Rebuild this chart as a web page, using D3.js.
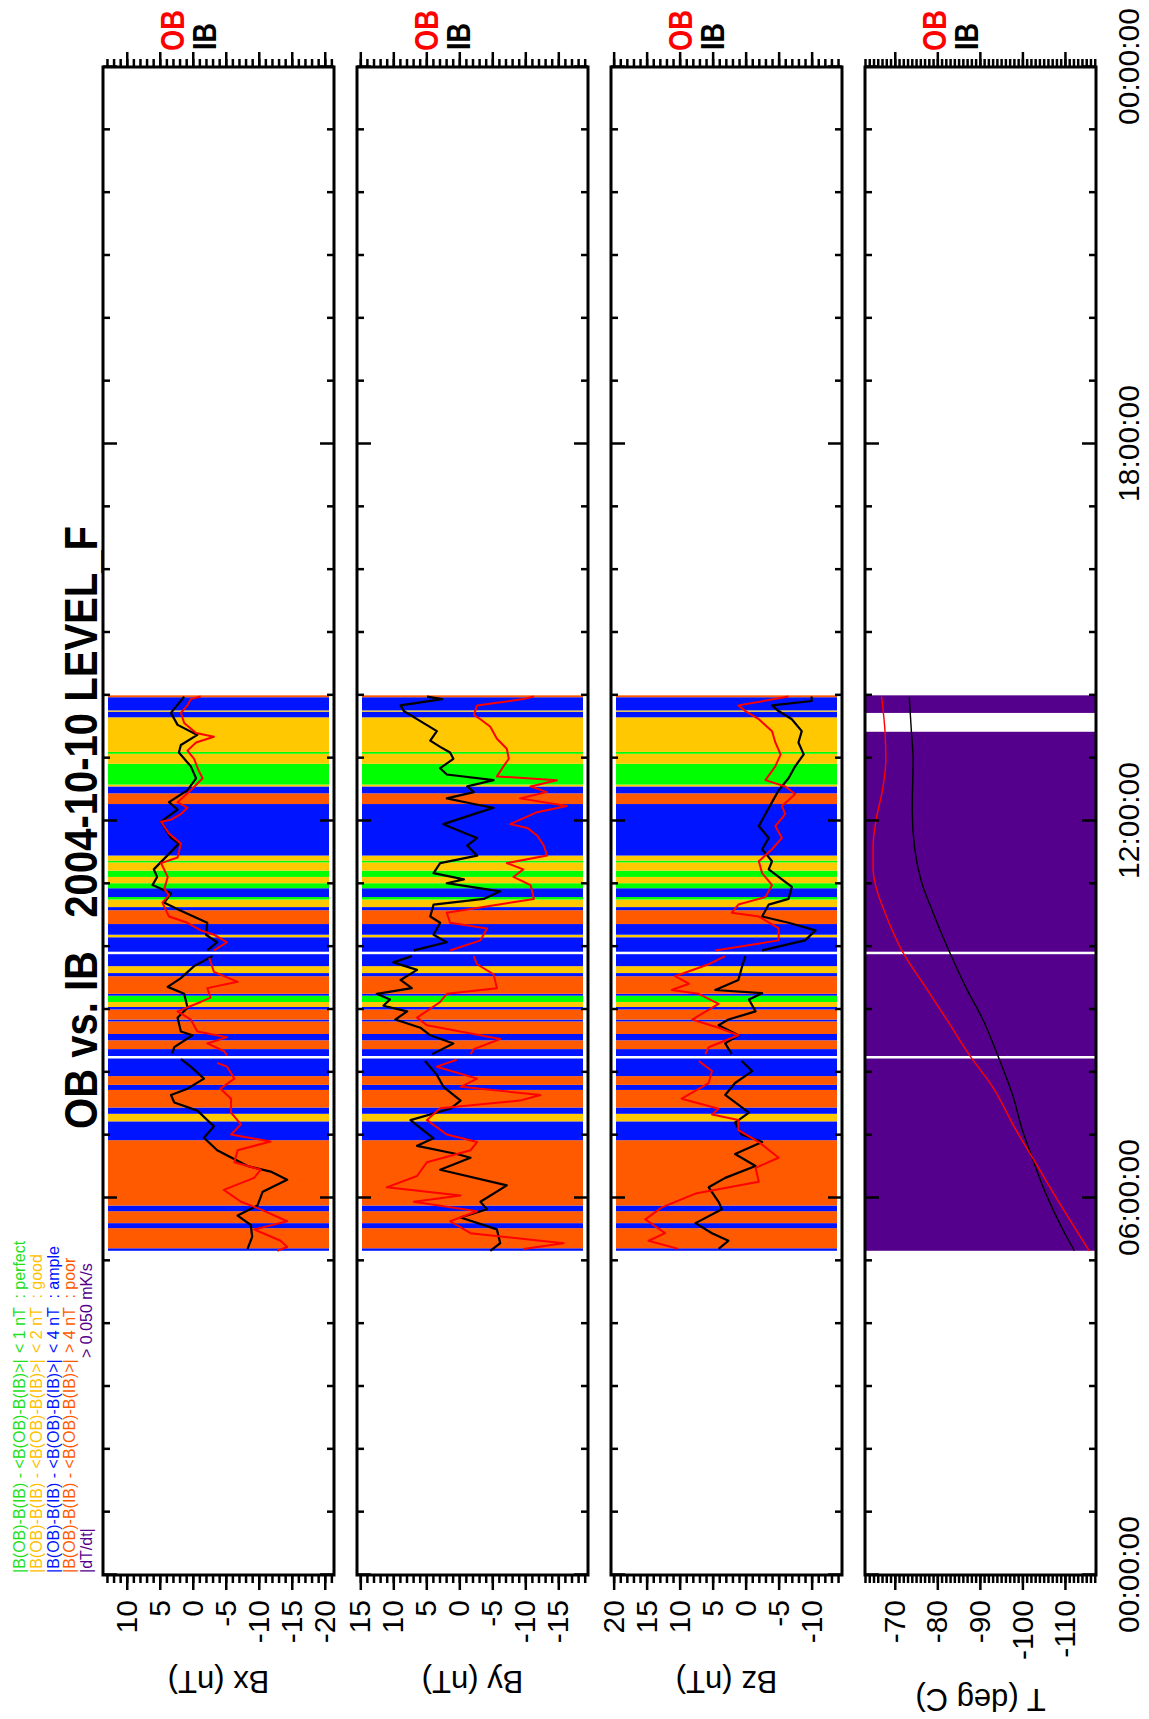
<!DOCTYPE html>
<html><head><meta charset="utf-8">
<script src="https://cdn.jsdelivr.net/npm/d3@7"></script>
<style>
body{margin:0;background:#fff}
svg{display:block}
text{font-family:"Liberation Sans",Arial,Helvetica,sans-serif}
</style>
</head><body>
<svg id="c" width="1149" height="1719"></svg>
<script>
// ---------------- data ----------------
const timeTickHours = [0, 6, 12, 18, 24];
const timeTickLabels = ["00:00:00", "06:00:00", "12:00:00", "18:00:00", "00:00:00"];
const panelNames = ["Bx (nT)", "By (nT)", "Bz (nT)", "T (deg C)"];
const panelDomains = [[-21.4, 13.6], [-19.5, 15.5], [-14.6, 20.4], [-117.3, -63]];
const panelMajorTicks = [
  [10, 5, 0, -5, -10, -15, -20],
  [15, 10, 5, 0, -5, -10, -15],
  [20, 15, 10, 5, 0, -5, -10],
  [-70, -80, -90, -100, -110]
];
const panelMinorStep = [1, 1, 1, 1];

// quality bands (hours of day)
const bandStart = [5.16,5.20,5.52,5.60,5.79,5.88,6.92,7.22,7.34,7.44,7.72,7.80,7.94,
  8.26,8.37,8.51,8.61,8.81,8.84,9.00,9.04,9.12,9.22,9.25,9.53,9.58,9.69,
  9.92,10.15,10.19,10.36,10.58,10.63,10.75,10.79,10.93,11.01,11.11,11.21,11.34,11.37,11.45,
  12.27,12.44,12.55,12.58,12.91,13.07,13.10,13.65,13.74,13.76,13.97];
const bandEnd = [5.20,5.52,5.60,5.79,5.88,6.92,7.22,7.34,7.44,7.72,7.80,7.94,8.22,
  8.37,8.51,8.61,8.81,8.84,9.00,9.04,9.12,9.22,9.25,9.53,9.58,9.69,9.88,
  10.15,10.19,10.36,10.58,10.63,10.75,10.79,10.93,11.01,11.11,11.21,11.34,11.37,11.45,12.27,
  12.44,12.55,12.58,12.91,13.07,13.10,13.65,13.74,13.76,13.97,14.00];
const bandQuality = ["b","o","b","o","b","o","b","y","b","o","b","o","b",
  "b","o","b","o","b","o","b","y","g","b","o","b","y","b",
  "b","y","b","o","b","y","g","b","g","y","g","y","g","y","b",
  "o","b","y","g","y","g","y","b","y","b","o"];
const qualityColor = {g: "#00ff00", y: "#ffc800", b: "#0014ff", o: "#ff5a00"};
const tempBandStart = [5.16, 8.26, 9.92, 13.72];
const tempBandEnd = [8.22, 9.88, 13.42, 14.00];
const tempColor = "#55008c";
const gapTimes = [8.24, 9.90];

// magnetic field, [hour, nT]
const bxIB = [[5.19,-8.3],[5.38,-9.0],[5.57,-8.8],[5.72,-6.8],[5.88,-9.8],[6.10,-10.6],[6.29,-14.3],[6.42,-11.8],[6.51,-8.3],[6.76,-3.7],[6.96,-1.7],[7.14,-3.2],[7.39,-0.7],[7.52,2.8],[7.64,3.3],[7.74,0.8],[7.90,-1.7],[8.09,0.3],[8.21,1.8],
  [8.30,3.1],[8.40,2.8],[8.59,0.05],[8.65,1.8],[8.87,2.3],[9.03,0.8],[9.25,1.3],[9.36,3.8],[9.50,1.8],[9.69,-0.2],[9.85,-3.0],
  [9.94,-2.2],[10.07,-3.7],[10.19,-2.0],[10.38,-2.2],[10.57,1.8],[10.70,4.3],[10.85,3.3],[10.98,6.1],[11.11,5.4],[11.23,5.9],[11.64,2.1],[11.73,3.3],[11.99,4.8],[12.18,2.3],[12.30,3.6],[12.49,0.8],[12.68,-0.5],[12.87,0.3],[13.09,2.1],[13.21,1.8],[13.37,-0.7],[13.53,2.3],[13.72,3.3],[13.98,1.3]];
const bxOB = [[5.16,-12.8],[5.22,-14.3],[5.32,-13.3],[5.50,-9.3],[5.63,-14.3],[5.82,-10.3],[5.94,-7.3],[6.13,-4.7],[6.32,-9.3],[6.45,-10.3],[6.57,-6.3],[6.76,-6.8],[6.90,-11.8],[7.01,-5.8],[7.17,-7.3],[7.36,-5.8],[7.58,-5.8],[7.74,-4.2],[7.90,-6.3],[8.09,-5.2],[8.15,-3.7],
  [8.27,-5.2],[8.34,-4.7],[8.46,-2.2],[8.56,-5.2],[8.65,-0.7],[8.84,0.3],[8.97,2.3],[9.12,-1.2],[9.19,-2.7],[9.34,-2.2],[9.44,-6.8],[9.60,-3.2],[9.82,-2.5],
  [9.94,-3.2],[10.07,-5.2],[10.19,-3.2],[10.26,-1.2],[10.38,0.8],[10.48,3.6],[10.70,4.6],[10.82,3.6],[10.92,4.3],[11.11,3.8],[11.33,4.8],[11.42,2.3],[11.64,1.8],[11.80,3.6],[11.99,4.8],[12.02,3.3],[12.11,1.8],[12.21,0.8],[12.30,2.3],[12.49,0.3],[12.68,-1.5],[12.80,-0.9],[12.99,-0.2],[13.12,0.8],[13.25,-0.5],[13.34,-3.2],[13.40,-0.5],[13.56,1.3],[13.72,1.8],[13.84,0.8],[13.94,0.3],[13.98,-1.2]];
const byIB = [[5.16,-4.7],[5.28,-6.2],[5.50,-5.7],[5.69,-0.2],[5.82,-4.2],[5.94,-3.2],[6.20,-7.2],[6.45,2.9],[6.64,-1.7],[6.70,0.4],[6.83,6.4],[6.95,3.9],[7.24,7.4],[7.42,1.4],[7.55,-0.2],[7.77,2.4],[7.96,3.4],[8.18,5.2],
  [8.29,4.1],[8.46,0.9],[8.59,4.4],[8.71,5.9],[8.84,9.7],[8.97,7.9],[9.06,11.5],[9.16,10.5],[9.25,12.5],[9.34,7.2],[9.47,8.9],[9.63,6.4],[9.75,10.0],[9.85,7.2],
  [9.94,6.9],[10.07,1.9],[10.19,3.9],[10.38,2.9],[10.48,4.4],[10.67,3.9],[10.76,-3.7],[10.88,-6.2],[11.01,1.9],[11.07,-0.7],[11.17,3.9],[11.33,2.9],[11.45,-2.7],[11.61,-1.2],[11.73,-2.7],[11.86,0.4],[11.95,2.4],[12.11,-2.2],[12.21,-5.2],[12.27,-2.2],[12.36,1.9],[12.46,-2.2],[12.55,-1.2],[12.65,-5.2],[12.74,1.9],[12.84,2.9],[12.99,0.9],[13.09,1.4],[13.18,2.9],[13.28,4.4],[13.43,3.4],[13.59,5.9],[13.75,8.4],[13.84,8.9],[13.94,2.6],[13.98,4.9]];
const byOB = [[5.19,-9.7],[5.28,-15.8],[5.44,-1.7],[5.63,1.4],[5.79,-2.7],[5.94,6.9],[6.04,-0.2],[6.17,11.0],[6.35,6.4],[6.57,4.9],[6.76,-1.7],[6.89,-2.7],[7.01,1.9],[7.24,4.9],[7.43,2.9],[7.55,-9.2],[7.64,-12.3],[7.77,-0.2],[7.90,-2.7],[8.09,3.4],[8.20,0.4],
  [8.29,-1.7],[8.37,-2.2],[8.53,-6.2],[8.75,4.9],[8.87,6.4],[9.12,2.9],[9.25,1.9],[9.34,-5.7],[9.56,-5.2],[9.72,-2.7],[9.85,-2.2],
  [9.94,1.4],[10.10,-3.2],[10.29,-4.2],[10.38,1.4],[10.54,1.9],[10.76,-11.3],[10.98,-10.8],[11.11,-8.2],[11.23,-9.7],[11.33,-7.2],[11.45,-13.3],[11.61,-12.8],[11.77,-11.8],[11.89,-10.3],[11.95,-7.7],[12.14,-11.8],[12.24,-16.3],[12.36,-9.2],[12.46,-13.3],[12.55,-10.8],[12.65,-14.8],[12.71,-5.7],[12.87,-6.7],[12.99,-7.5],[13.15,-7.2],[13.31,-5.7],[13.50,-4.7],[13.62,-3.2],[13.69,-2.2],[13.84,-2.7],[13.94,-9.7],[13.98,-11.3]];
const bzIB = [[5.19,4.1],[5.32,2.6],[5.44,5.1],[5.60,7.6],[5.82,3.6],[5.94,4.1],[6.17,5.6],[6.32,3.1],[6.51,-1.5],[6.70,1.6],[6.89,-2.5],[7.01,0.6],[7.20,1.6],[7.36,-0.5],[7.64,3.1],[7.83,1.6],[8.02,-1.0],[8.18,0.6],
  [8.29,2.1],[8.46,3.1],[8.59,1.1],[8.75,4.1],[8.84,2.6],[8.97,-1.5],[9.16,-0.5],[9.26,-2.5],[9.31,4.6],[9.47,1.1],[9.66,0.6],[9.85,0.05],
  [9.94,-2.5],[10.10,-9.0],[10.26,-10.6],[10.38,-6.5],[10.48,-2.5],[10.67,-3.5],[10.76,-6.5],[10.95,-7.0],[11.11,-5.0],[11.23,-3.5],[11.36,-4.0],[11.55,-2.5],[11.73,-3.5],[11.92,-2.0],[12.11,-3.0],[12.30,-4.0],[12.49,-5.0],[12.68,-6.5],[12.87,-7.5],[13.06,-8.8],[13.25,-8.0],[13.43,-8.5],[13.62,-7.0],[13.75,-5.0],[13.84,-4.0],[13.91,-10.0],[13.98,-10.0]];
const bzOB = [[5.19,10.2],[5.32,14.7],[5.44,12.2],[5.66,15.2],[5.85,12.7],[6.07,7.6],[6.26,-2.0],[6.48,-1.5],[6.64,-5.0],[6.89,-2.0],[7.08,1.1],[7.24,1.1],[7.33,5.1],[7.42,4.1],[7.58,9.7],[7.83,5.6],[8.02,5.1],[8.18,7.1],
  [8.29,6.1],[8.40,5.6],[8.59,1.1],[8.71,4.1],[8.84,8.1],[9.09,4.1],[9.25,7.1],[9.31,11.2],[9.41,8.6],[9.53,10.7],[9.72,5.6],[9.85,3.1],
  [9.94,4.6],[10.10,-5.0],[10.29,-5.0],[10.48,-2.0],[10.54,2.1],[10.67,1.1],[10.79,-3.0],[10.98,-4.0],[11.17,-2.5],[11.36,-2.0],[11.55,-4.0],[11.73,-5.5],[11.92,-4.5],[12.11,-6.0],[12.24,-5.5],[12.43,-7.5],[12.55,-6.0],[12.65,-3.0],[12.87,-4.5],[13.06,-5.3],[13.25,-4.5],[13.43,-4.0],[13.62,-2.0],[13.75,0.05],[13.84,1.1],[13.98,-6.5]];
// temperature, [hour, deg C]
const tempIB = [[5.16,-112.2],[5.51,-109.4],[6.07,-105.5],[6.70,-102.0],[7.08,-100.0],[7.64,-97.7],[8.27,-94.2],[8.84,-90.7],[9.34,-86.8],[9.91,-82.9],[10.54,-79.0],[11.05,-76.2],[11.55,-74.7],[12.18,-74.1],[12.99,-74.3],[13.43,-73.9],[13.98,-73.4]];
const tempOB = [[5.16,-115.7],[6.01,-107.9],[6.64,-102.4],[7.08,-98.5],[7.77,-93.0],[8.27,-87.6],[8.81,-82.5],[9.34,-77.4],[9.91,-71.9],[10.54,-67.7],[10.92,-65.7],[11.24,-64.9],[11.61,-64.9],[12.05,-65.7],[12.49,-67.1],[12.99,-67.9],[13.43,-67.7],[13.98,-66.9]];

const panelSeries = [[bxIB, bxOB], [byIB, byOB], [bzIB, bzOB], [tempIB, tempOB]];

const legendLeft = ["|B(OB)-B(IB) - <B(OB)-B(IB)>|", "|B(OB)-B(IB) - <B(OB)-B(IB)>|", "|B(OB)-B(IB) - <B(OB)-B(IB)>|", "|B(OB)-B(IB) - <B(OB)-B(IB)>|", "|dT/dt|"];
const legendRight = ["< 1 nT  : perfect", "< 2 nT  : good", "< 4 nT  : ample", "> 4 nT  : poor", "> 0.050 mK/s"];
const legendColor = ["#22e01c", "#ffc000", "#0014ff", "#ff5a00", "#55008c"];

const titleText = "OB vs. IB   2004-10-10 LEVEL_F";

// ---------------- drawing (landscape, rotated) ----------------
const L = 1719;            // landscape width (= page height)
const svg = d3.select("#c");
const root = svg.append("g").attr("transform", `translate(0,${L}) rotate(-90)`);

const x = d3.scaleLinear().domain([0, 24]).range([144, 1652]);
const panelTop = i => 103 + i * 254;
const panelH = 231;
const hours = d3.range(0, 25);

function splitAtGaps(data) {
  const segs = gapTimes.concat([Infinity]).map(() => []);
  data.forEach(d => {
    const k = gapTimes.filter(gt => gt < d[0]).length;
    segs[k].push(d);
  });
  return segs.filter(s => s.length > 1);
}

const defs = svg.append("defs");

panelNames.forEach((name, i) => {
  const top = panelTop(i), bot = top + panelH;
  const y = d3.scaleLinear().domain(panelDomains[i]).range([bot, top]);
  const p = root.append("g");

  defs.append("clipPath").attr("id", "clip" + i)
    .append("rect").attr("x", x(0)).attr("y", top).attr("width", x(24) - x(0)).attr("height", panelH);

  // background bands
  if (i < 3) {
    p.append("g").selectAll("rect").data(bandStart.map((s, k) => ({s, e: bandEnd[k], q: bandQuality[k]})))
      .join("rect")
      .attr("x", d => x(d.s)).attr("width", d => x(d.e) - x(d.s))
      .attr("y", top + 5).attr("height", panelH - 10)
      .attr("fill", d => qualityColor[d.q]);
  } else {
    p.append("g").selectAll("rect").data(tempBandStart.map((s, k) => ({s, e: tempBandEnd[k]})))
      .join("rect")
      .attr("x", d => x(d.s)).attr("width", d => x(d.e) - x(d.s))
      .attr("y", top).attr("height", panelH)
      .attr("fill", tempColor);
  }

  // lines
  const lg = p.append("g").attr("clip-path", `url(#clip${i})`);
  const [ib, ob] = panelSeries[i];
  if (i < 3) {
    const line = d3.line().x(d => x(d[0])).y(d => y(d[1]));
    lg.selectAll("path.ib").data(splitAtGaps(ib)).join("path").attr("class", "ib")
      .attr("d", line).attr("fill", "none").attr("stroke", "#000").attr("stroke-width", 2.2).attr("stroke-linejoin", "round");
    lg.selectAll("path.ob").data(splitAtGaps(ob)).join("path").attr("class", "ob")
      .attr("d", line).attr("fill", "none").attr("stroke", "#ff0000").attr("stroke-width", 2).attr("stroke-linejoin", "round");
  } else {
    const line = d3.line().x(d => x(d[0])).y(d => y(d[1])).curve(d3.curveMonotoneX);
    lg.append("path").datum(ib).attr("d", line).attr("fill", "none").attr("stroke", "#000").attr("stroke-width", 1.4);
    lg.append("path").datum(ob).attr("d", line).attr("fill", "none").attr("stroke", "#ff0000").attr("stroke-width", 1.4);
  }

  // border
  p.append("rect").attr("x", x(0)).attr("y", top).attr("width", x(24) - x(0)).attr("height", panelH)
    .attr("fill", "none").attr("stroke", "#000").attr("stroke-width", 3);

  // time ticks (inward, both edges)
  const styleAx = s => { s.select(".domain").remove(); s.selectAll("line").attr("stroke", "#000").attr("stroke-width", 2.5); };
  p.append("g").attr("transform", `translate(0,${top})`)
    .call(d3.axisBottom(x).tickValues(hours.filter(h => h % 6)).tickSize(7).tickFormat("")).call(styleAx);
  p.append("g").attr("transform", `translate(0,${top})`)
    .call(d3.axisBottom(x).tickValues(hours.filter(h => h % 6 === 0)).tickSize(14).tickFormat("")).call(styleAx);
  p.append("g").attr("transform", `translate(0,${bot})`)
    .call(d3.axisTop(x).tickValues(hours.filter(h => h % 6)).tickSize(7).tickFormat("")).call(styleAx);
  p.append("g").attr("transform", `translate(0,${bot})`)
    .call(d3.axisTop(x).tickValues(hours.filter(h => h % 6 === 0)).tickSize(14).tickFormat("")).call(styleAx);

  // value ticks (outward, both ends)
  const [d0, d1] = panelDomains[i];
  const minor = d3.range(Math.ceil(d0), Math.floor(d1) + 1, panelMinorStep[i]);
  p.append("g").attr("transform", `translate(${x(0)},0)`)
    .call(d3.axisLeft(y).tickValues(minor).tickSize(8).tickFormat("")).call(styleAx);
  p.append("g").attr("transform", `translate(${x(24)},0)`)
    .call(d3.axisRight(y).tickValues(minor).tickSize(8).tickFormat("")).call(styleAx);
  p.append("g").attr("transform", `translate(${x(24)},0)`)
    .call(d3.axisRight(y).tickValues(panelMajorTicks[i]).tickSize(15).tickFormat("")).call(styleAx);
  const la = p.append("g").attr("transform", `translate(${x(0)},0)`)
    .call(d3.axisLeft(y).tickValues(panelMajorTicks[i]).tickSize(15).tickPadding(10).tickFormat(d => String(d)))
    .call(styleAx);
  la.selectAll("text").attr("font-size", 30).attr("fill", "#000").attr("font-family", '"Liberation Sans",Arial,sans-serif');

  // axis title
  p.append("text")
    .attr("transform", `translate(${i < 3 ? 48 : 30},${(top + bot) / 2}) rotate(-90)`)
    .attr("text-anchor", "middle").attr("font-size", 31).text(name);

  // OB / IB labels
  p.append("text").attr("x", 1668).attr("y", top + 81).attr("font-size", 33).attr("font-weight", "bold")
    .attr("fill", "#ff0000").attr("textLength", 41).attr("lengthAdjust", "spacingAndGlyphs").text("OB");
  p.append("text").attr("x", 1669).attr("y", top + 113).attr("font-size", 33).attr("font-weight", "bold")
    .attr("fill", "#000").attr("textLength", 27).attr("lengthAdjust", "spacingAndGlyphs").text("IB");
});

// time labels under the last panel
const ta = root.append("g").attr("transform", `translate(0,${panelTop(3) + panelH})`)
  .call(d3.axisBottom(x).tickValues(timeTickHours).tickSize(0).tickPadding(22).tickFormat((d, k) => timeTickLabels[k]));
ta.select(".domain").remove();
ta.selectAll("text").attr("font-size", 30).attr("fill", "#000").attr("font-family", '"Liberation Sans",Arial,sans-serif');

// title
root.append("text").attr("x", 590).attr("y", 97).attr("font-size", 47).attr("font-weight", "bold")
  .attr("textLength", 603).attr("lengthAdjust", "spacingAndGlyphs").style("white-space", "pre").text(titleText);

// legend
const leg = root.append("g");
legendLeft.forEach((t, k) => {
  const by = 25 + k * 16.8;
  leg.append("text").attr("x", 146).attr("y", by).attr("font-size", 16).attr("fill", legendColor[k]).text(t);
  leg.append("text").attr("x", k < 4 ? 366 : 361).attr("y", by).attr("font-size", 16).attr("fill", legendColor[k])
    .style("white-space", "pre").text(legendRight[k]);
});
</script>
</body></html>
